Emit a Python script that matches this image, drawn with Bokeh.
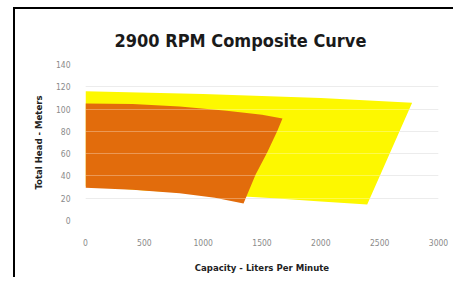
from bokeh.plotting import figure
from bokeh.models import Range1d, Grid, FixedTicker
from bokeh.embed import file_html
from bokeh.resources import INLINE

# Composite curve envelopes (capacity L/min, total head m)
yellow_capacity = [0, 1000, 2000, 2776, 2394, 2000, 1600, 1350, 1000, 500, 0]
yellow_head = [116, 113.5, 110, 105.6, 14.4, 17, 20, 21.5, 24, 27, 31]

orange_capacity = [0, 400, 800, 1200, 1500, 1674, 1629, 1544, 1445, 1343, 1100, 800, 400, 0]
orange_head = [105, 104.5, 102.3, 98.5, 95, 91.5, 80, 61, 41, 15.3, 20.5, 24.5, 27.5, 29.5]

x_ticks = [0, 500, 1000, 1500, 2000, 2500, 3000]
y_ticks = [0, 20, 40, 60, 80, 100, 120, 140]

COND = "'DejaVu Sans Condensed', 'Liberation Sans Narrow', 'DejaVu Sans'"

p = figure(width=440, height=270, output_backend="svg", toolbar_location=None,
           x_range=Range1d(0, 3000), y_range=Range1d(0, 140),
           min_border_left=70, min_border_right=17, min_border_top=55, min_border_bottom=59,
           title="2900 RPM Composite Curve")
p.margin = (7, 0, 0, 13)
p.styles = {"border-top": "2px solid black", "border-left": "2px solid black"}
p.outline_line_color = None
p.background_fill_color = "white"
p.border_fill_color = "white"

p.title.align = "left"
p.title.offset = 29
p.title.text_font = COND
p.title.text_font_size = "18px"
p.title.text_font_style = "bold"
p.title.text_color = "#1a1a1a"
p.title.standoff = 27

p.patch(yellow_capacity, yellow_head, fill_color="#fdf800", line_color=None)
p.patch(orange_capacity, orange_head, fill_color="#e26c0c", line_color=None)

p.xaxis.ticker = FixedTicker(ticks=x_ticks)
p.yaxis.ticker = FixedTicker(ticks=y_ticks)
for ax in (p.xaxis, p.yaxis):
    ax.axis_line_color = None
    ax.major_tick_line_color = None
    ax.minor_tick_line_color = None
    ax.major_tick_out = 0
    ax.major_tick_in = 0
    ax.major_label_text_font = COND
    ax.major_label_text_font_size = "8.5px"
    ax.major_label_text_color = "#8a8a8a"
    ax.axis_label_text_font = COND
    ax.axis_label_text_font_size = "9.5px"
    ax.axis_label_text_font_style = "bold"
    ax.axis_label_text_color = "#222222"

p.xaxis.axis_label = "Capacity - Liters Per Minute"
p.yaxis.axis_label = "Total Head - Meters"
p.xaxis.major_label_standoff = 18
p.xaxis.axis_label_standoff = 13
p.yaxis.major_label_standoff = 15
p.yaxis.axis_label_standoff = 9

p.xgrid.grid_line_color = None
p.ygrid.grid_line_color = "#e4e4e4"
p.ygrid.grid_line_width = 1
p.add_layout(Grid(dimension=1, ticker=p.yaxis[0].ticker, level="overlay",
                  grid_line_color="white", grid_line_alpha=0.3))

open("out.html", "w").write(file_html(p, INLINE))
